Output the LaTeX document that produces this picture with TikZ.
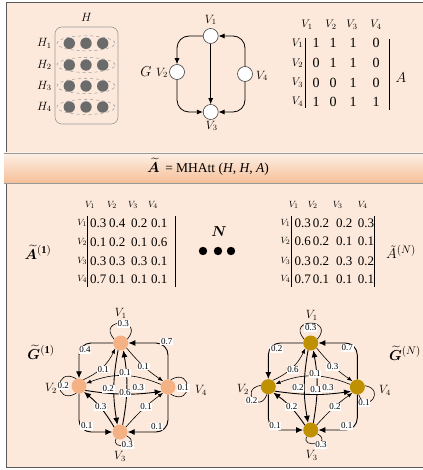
\documentclass[tikz,border=0pt]{standalone}
\usepackage{amsmath}
\usepackage{bm}
\usepackage{fontspec}
\setmainfont{Liberation Serif}
\usetikzlibrary{arrows.meta,shapes.geometric}
\definecolor{bgc}{HTML}{FDE9DB}
\definecolor{bordc}{HTML}{5A5A5A}
\definecolor{nodeA}{HTML}{F4B183}
\definecolor{nodeB}{HTML}{BF9000}
\definecolor{dotc}{HTML}{6B6B6B}
\definecolor{bandtop}{HTML}{FDF0E6}
\definecolor{bandbot}{HTML}{F5BF97}
\definecolor{hboxc}{HTML}{9A9A9A}
\tikzset{
  lab/.style={inner sep=0pt, font=\fontsize{11.5}{12}\selectfont},
  alab/.style={inner sep=0pt, font=\fontsize{11}{12}\selectfont},
  hlab/.style={inner sep=0pt, font=\fontsize{12}{13}\selectfont},
  big/.style={inner sep=0pt, font=\fontsize{13.5}{15}\selectfont},
  anum/.style={inner sep=0pt, font=\fontsize{14}{15}\selectfont},
  bnum/.style={inner sep=0pt, font=\fontsize{13}{14}\selectfont},
  slab/.style={inner sep=0pt, font=\fontsize{9.5}{10}\selectfont},
  wl/.style={fill=white, inner sep=0.6pt, font=\fontsize{9}{9}\selectfont},
  wnode/.style={circle, draw=black!75, fill=white, minimum size=15pt, inner sep=0pt, line width=0.6pt},
  gA/.style={circle, fill=nodeA, minimum size=15pt, inner sep=0pt},
  gB/.style={circle, fill=nodeB, minimum size=15pt, inner sep=0pt},
  arr/.style={-{Latex[length=6pt,width=5pt]}, line width=0.8pt},
  thk/.style={-{Latex[length=7pt,width=6pt]}, line width=0.9pt},
  thn/.style={-{Latex[length=5pt,width=4pt]}, line width=0.6pt},
  lp/.style={line width=0.6pt},
  bar/.style={line width=0.8pt}
}
\begin{document}
\begin{tikzpicture}[x=1pt,y=1pt]
\useasboundingbox (0,0) rectangle (422,-470);
% backgrounds
\fill[bgc] (6,-2.5) rectangle (426,-467);
\draw[bordc, line width=1pt] (426,-2.5) -- (6,-2.5) -- (6,-467) -- (426,-467);
\shade[top color=bandtop, bottom color=bandbot] (4,-153) rectangle (426,-183);
\draw[black!40, line width=0.8pt] (4,-153) -- (426,-153) (4,-183) -- (426,-183);

% ---------- H block ----------
\node[hlab] (Hlab) at (86.5,-17) {$H$};
\node[draw=hboxc, rounded corners=7pt, line width=0.6pt, minimum width=63pt, minimum height=97pt, inner sep=0pt] (Hbox) at (86.5,-75.5) {};
\foreach \i/\y in {1/43.3,2/65,3/86,4/107} {
  \node[draw=hboxc, dashed, ellipse, minimum width=58pt, minimum height=15pt, inner sep=0pt, line width=0.5pt] (E\i) at (86,-\y) {};
  \node[circle, fill=dotc, minimum size=11.4pt, inner sep=0pt] (D\i a) at (69.3,-\y) {};
  \node[circle, fill=dotc, minimum size=11.4pt, inner sep=0pt] (D\i b) at (86,-\y) {};
  \node[circle, fill=dotc, minimum size=11.4pt, inner sep=0pt] (D\i c) at (102.7,-\y) {};
  \node[hlab] (Hl\i) at (44.3,-\y) {$H_{\i}$};
}

% ---------- top graph G ----------
\node[wnode] (t1) at (210.7,-36) {};
\node[wnode] (t2) at (177,-72) {};
\node[wnode] (t3) at (210.7,-112) {};
\node[wnode] (t4) at (245,-74) {};
\node[lab] (t1l) at (210.7,-20) {$V_1$};
\node[lab] (t2l) at (162,-73) {$V_2$};
\node[lab] (t3l) at (211.7,-126) {$V_3$};
\node[lab] (t4l) at (262,-76) {$V_4$};
\node[big, font=\fontsize{15}{16}\selectfont] (Gl) at (146,-72) {$G$};
\draw[arr, rounded corners=12pt] (t1.west) -| (t2.north);
\draw[arr] (t1.south) -- (t3.north);
\draw[arr, rounded corners=12pt] (t2.south) |- (t3.west);
\draw[arr, rounded corners=12pt] (t4.north) |- (t1.east);
\draw[arr, rounded corners=12pt] (t4.south) |- (t3.east);

% ---------- adjacency matrix A ----------
\foreach \x [count=\j] in {307,331,352,376} {
  \node[alab] (Ach\j) at (\x,-25) {$V_{\j}$};
}
\foreach \y [count=\i] in {43.3,63.3,82.7,101.7} {
  \node[alab] (Arh\i) at (297.5,-\y) {$V_{\i}$};
}
\foreach \row [count=\i] in {{1,1,1,0},{0,1,1,0},{0,0,1,0},{1,0,1,1}} {
  \foreach \v [count=\j] in \row {
    \pgfmathsetmacro\xx{{316,333,353,376}[\j-1]}
    \pgfmathsetmacro\yy{{43.3,63.3,82.7,101.7}[\i-1]}
    \node[anum] (A\i\j) at (\xx,-\yy) {\v};
  }
}
\draw[bar] (305,-38) -- (305,-108);
\draw[bar] (389,-39) -- (389,-110);
\node[big, font=\fontsize{15}{16}\selectfont] (Alab) at (401,-78) {$A$};

% ---------- band ----------
\node[big] (eq) at (208,-167) {$\widetilde{\bm{A}}$\, = MHAtt (\textit{H}, \textit{H}, \textit{A})};

% ---------- matrix A~(1) ----------
\node[big, font=\fontsize{15}{16}\selectfont] (M1lab) at (38,-252) {$\widetilde{\bm{A}}^{(\mathbf{1})}$};
\foreach \x [count=\j] in {90,112,133,153} {
  \node[slab] (Pch\j) at (\x,-205) {$V_{\j}$};
}
\foreach \y [count=\i] in {223,242,261,279} {
  \node[slab] (Prh\i) at (82.2,-\y) {$V_{\i}$};
}
\foreach \row [count=\i] in {{0.3,0.4,0.2,0.1},{0.1,0.2,0.1,0.6},{0.3,0.3,0.3,0.1},{0.7,0.1,0.1,0.1}} {
  \foreach \v [count=\j] in \row {
    \pgfmathsetmacro\xx{{98.3,117.3,139.3,159.3}[\j-1]}
    \pgfmathsetmacro\yy{{223,242,261,279}[\i-1]}
    \node[bnum] (P\i\j) at (\xx,-\yy) {\v};
  }
}
\draw[bar] (87.3,-216) -- (87.3,-287);
\draw[bar] (175,-216) -- (175,-287);

% ---------- dots ----------
\node[big, font=\fontsize{15}{16}\selectfont] (Nlab) at (219,-232) {$\bm{N}$};
\fill (203,-251) circle (4.2);
\fill (218,-251) circle (4.2);
\fill (231,-251) circle (4.2);

% ---------- matrix A~(N) ----------
\node[big, font=\fontsize{15}{16}\selectfont] (MNlab) at (401,-252) {$\tilde{A}^{(N)}$};
\foreach \x [count=\j] in {293.7,312.7,337.7,362.7} {
  \node[slab] (Qch\j) at (\x,-205) {$V_{\j}$};
}
\foreach \y [count=\i] in {223,241,261,279} {
  \node[slab] (Qrh\i) at (285.5,-\y) {$V_{\i}$};
}
\foreach \row [count=\i] in {{0.3,0.2,0.2,0.3},{0.6,0.2,0.1,0.1},{0.3,0.2,0.3,0.2},{0.7,0.1,0.1,0.1}} {
  \foreach \v [count=\j] in \row {
    \pgfmathsetmacro\xx{{302.7,321,344.3,366}[\j-1]}
    \pgfmathsetmacro\yy{{223,241,261,279}[\i-1]}
    \node[bnum] (Q\i\j) at (\xx,-\yy) {\v};
  }
}
\draw[bar] (291,-216) -- (291,-287);
\draw[bar] (374.3,-216) -- (374.3,-287);

% ---------- graph G~(1) ----------
\node[big, font=\fontsize{15}{16}\selectfont] (G1lab) at (41,-352) {$\widetilde{\bm{G}}^{(\mathbf{1})}$};
\node[gA] (a1) at (120.7,-343) {};
\node[gA] (a2) at (79,-386) {};
\node[gA] (a3) at (120,-432) {};
\node[gA] (a4) at (168,-387) {};
\node[lab] (a1l) at (120.7,-313) {$V_1$};
\node[lab] (a2l) at (51,-388) {$V_2$};
\node[lab] (a3l) at (120,-456) {$V_3$};
\node[lab] (a4l) at (201,-390) {$V_4$};
\draw[thk, rounded corners=12pt] (a1.west) -| (a2.north);
\draw[thk, rounded corners=12pt] (a4.north) |- (a1.east);
\draw[thk, rounded corners=12pt] (a2.south) |- (a3.west);
\draw[thk, rounded corners=12pt] (a4.south) |- (a3.east);
\draw[thk] (a1.250) to[bend right=10] (a3.110);
\draw[thk] (a3.70) to[bend right=10] (a1.290);
\draw[thn] (a4.160) to[bend right=22] (a2.20);
\draw[thk] (a2.-35) to[bend right=8] (a4.215);
\draw[thn] (a2.55) to[bend right=20] (a1.225);
\draw[thn] (a1.-40) to[bend right=8] (a4.130);
\draw[thk] (a3.140) to[bend right=10] (a2.-50);
\draw[thn] (a3.40) to[bend left=6] (a4.-130);
\draw[lp] (a1.150) .. controls +(130:28) and +(50:28) .. (a1.30);
\draw[lp] (a2.110) .. controls +(150:26) and +(210:26) .. (a2.250);
\draw[lp] (a4.70) .. controls +(30:26) and +(-30:26) .. (a4.-70);
\draw[lp] (a3.240) .. controls +(240:14) and +(330:20) .. (a3.330);
\node[wl] (la11) at (123.3,-324) {0.3};
\node[wl] (la12) at (85,-350) {0.4};
\node[wl] (la41) at (166.7,-341.7) {0.7};
\node[wl] (la21) at (103.3,-369.3) {0.1};
\node[wl] (la14) at (143.3,-366.7) {0.1};
\node[wl] (la42) at (125,-373) {0.1};
\node[wl] (la13) at (108.3,-389) {0.2};
\node[wl] (la24) at (125,-393) {0.6};
\node[wl] (la31) at (138.3,-388) {0.3};
\node[wl] (la32) at (100.7,-407) {0.3};
\node[wl] (la34) at (146,-407) {0.1};
\node[wl] (la23) at (86.7,-426) {0.1};
\node[wl] (la43) at (156.7,-426.7) {0.1};
\node[wl] (la22) at (63.2,-386) {0.2};
\node[wl] (la44) at (183.3,-388) {0.1};
\node[wl] (la33) at (127.3,-445) {0.3};

% ---------- graph G~(N) ----------
\node[big, font=\fontsize{15}{16}\selectfont] (GNlab) at (405,-353) {$\widetilde{\bm{G}}^{(N)}$};
\begin{scope}[xshift=190pt]
\node[gB] (b1) at (120.7,-343) {};
\node[gB] (b2) at (78.3,-386.7) {};
\node[gB] (b3) at (120.7,-430) {};
\node[gB] (b4) at (167.3,-387) {};
\node[lab] (b1l) at (121.7,-315) {$V_1$};
\node[lab] (b2l) at (53,-389) {$V_2$};
\node[lab] (b3l) at (121.7,-455) {$V_3$};
\node[lab] (b4l) at (195,-390) {$V_4$};
\draw[thk, rounded corners=12pt] (b1.west) -| (b2.north);
\draw[thk, rounded corners=12pt] (b4.north) |- (b1.east);
\draw[thk, rounded corners=12pt] (b2.south) |- (b3.west);
\draw[thk, rounded corners=12pt] (b4.south) |- (b3.east);
\draw[thk] (b1.250) to[bend right=10] (b3.110);
\draw[thk] (b3.70) to[bend right=10] (b1.290);
\draw[thn] (b4.160) to[bend right=22] (b2.20);
\draw[thk] (b2.-35) to[bend right=8] (b4.215);
\draw[thn] (b2.55) to[bend right=20] (b1.225);
\draw[thn] (b1.-40) to[bend right=8] (b4.130);
\draw[thk] (b3.140) to[bend right=10] (b2.-50);
\draw[thn] (b3.40) to[bend left=6] (b4.-130);
\draw[lp] (b1.150) .. controls +(130:28) and +(50:28) .. (b1.30);
\draw[lp] (b2.170) .. controls +(190:22) and +(250:22) .. (b2.260);
\draw[lp] (b4.10) .. controls +(-10:22) and +(290:22) .. (b4.280);
\draw[lp] (b3.240) .. controls +(240:14) and +(330:20) .. (b3.330);
\node[wl] (lb11) at (120.7,-328) {0.3};
\node[wl] (lb12) at (86.7,-349) {0.2};
\node[wl] (lb41) at (157.3,-348) {0.7};
\node[wl] (lb21) at (103,-370) {0.6};
\node[wl] (lb14) at (142.7,-367) {0.3};
\node[wl] (lb42) at (125,-374) {0.1};
\node[wl] (lb13) at (108,-388) {0.2};
\node[wl] (lb24) at (126,-390) {0.1};
\node[wl] (lb31) at (138,-388) {0.3};
\node[wl] (lb32) at (101.7,-407) {0.2};
\node[wl] (lb34) at (145,-407) {0.2};
\node[wl] (lb23) at (85,-426) {0.1};
\node[wl] (lb43) at (156.7,-426) {0.1};
\node[wl] (lb22) at (61.7,-400.7) {0.2};
\node[wl] (lb44) at (174,-403) {0.1};
\node[wl] (lb33) at (131,-445) {0.3};
\end{scope}
\end{tikzpicture}
\end{document}
